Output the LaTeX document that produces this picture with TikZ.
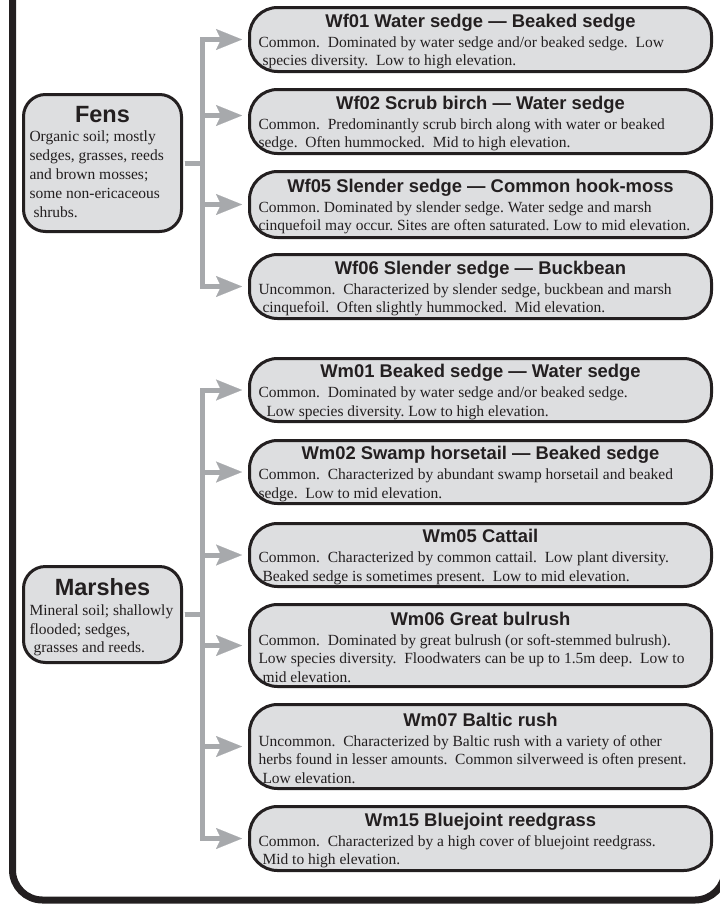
\documentclass[tikz,border=0pt]{standalone}
\usepackage{fontspec}
\setmainfont{Liberation Serif}
\newfontfamily\headsans{Liberation Sans}
\usetikzlibrary{arrows.meta}
\definecolor{ink}{HTML}{231F20}
\definecolor{boxfill}{RGB}{221,222,224}
\definecolor{linkgray}{RGB}{167,169,172}
\newcommand\twosp{\ \ }
% centred bold heading line of a type box (the strut sets its top)
\newcommand\leafhead[1]{\makebox[444pt][c]{\rule{0pt}{17pt}\headsans\bfseries\fontsize{18.4}{18.4}\selectfont #1}\\[1.5pt]}
\newcommand\grouphead[2]{\makebox[146pt][c]{\rule{0pt}{#2}\headsans\bfseries\fontsize{23.5}{24}\selectfont #1}\\[0.5pt]}
\frenchspacing
\tikzset{
  leaf/.style={draw=ink, line width=3pt, fill=boxfill, rounded corners=28pt,
    minimum width=462pt, inner sep=0pt, align=left, text=ink,
    font=\fontsize{15.5}{18.5}\selectfont},
  group/.style={draw=ink, line width=3pt, fill=boxfill, rounded corners=22pt,
    minimum width=158pt, inner sep=0pt, align=left, text=ink,
    font=\fontsize{15.5}{18.9}\selectfont},
  link/.style={draw=linkgray, line width=5pt, line join=miter,
    -{Stealth[length=26pt,width=21pt,inset=5pt,line width=0.1pt]},
    shorten >=6pt, shorten <=1.5pt},
  frame/.style={draw=ink, line width=7pt, rounded corners=30pt},
}
\begin{document}
\begin{tikzpicture}[x=1pt,y=-1pt]
\useasboundingbox (0,0) rectangle (720,905);
\clip (0,0) rectangle (720,905);

% outer frame
\draw[frame] (12.5,-60) -- (12.5,900) -- (725,900) -- (725,-60);

% habitat groups
\node[group, minimum height=137pt] (fens) at (102.5,163)
  {\grouphead{Fens}{19pt}Organic soil; mostly\\ sedges, grasses, reeds\\ and brown mosses;\\ some non-ericaceous\\ \hspace*{4pt}shrubs.\rule[-5pt]{0pt}{5pt}};
\node[group, minimum height=96pt] (marsh) at (102.5,614.5)
  {\grouphead{Marshes}{23pt}Mineral soil; shallowly\\ flooded; sedges,\\ \hspace*{4pt}grasses and reeds.};

% fen types
\node[leaf, minimum height=64pt] (wf01) at (480.5,39.5)
  {\leafhead{Wf01 Water sedge — Beaked sedge}Common.\twosp Dominated by water sedge and/or beaked sedge.\twosp Low\\ \hspace*{4pt}species diversity.\twosp Low to high elevation.};
\node[leaf, minimum height=64pt] (wf02) at (480.5,121.5)
  {\leafhead{Wf02 Scrub birch — Water sedge}Common.\twosp Predominantly scrub birch along with water or beaked\\ sedge.\twosp Often hummocked.\twosp Mid to high elevation.};
\node[leaf, minimum height=66pt] (wf05) at (480.5,204.5)
  {\leafhead{Wf05 Slender sedge — Common hook-moss}Common. Dominated by slender sedge. Water sedge and marsh\\ cinquefoil may occur. Sites are often saturated. Low to mid elevation.};
\node[leaf, minimum height=64pt] (wf06) at (480.5,286.5)
  {\leafhead{Wf06 Slender sedge — Buckbean}Uncommon.\twosp Characterized by slender sedge, buckbean and marsh\\ \hspace*{4pt}cinquefoil.\twosp Often slightly hummocked.\twosp Mid elevation.};

% marsh types
\node[leaf, minimum height=63pt] (wm01) at (480.5,390)
  {\leafhead{Wm01 Beaked sedge — Water sedge}Common.\twosp Dominated by water sedge and/or beaked sedge.\\ \hspace*{8pt}Low species diversity. Low to high elevation.};
\node[leaf, minimum height=63pt] (wm02) at (480.5,472)
  {\leafhead{Wm02 Swamp horsetail — Beaked sedge}Common.\twosp Characterized by abundant swamp horsetail and beaked\\ sedge.\twosp Low to mid elevation.};
\node[leaf, minimum height=63pt] (wm05) at (480.5,555)
  {\leafhead{Wm05 Cattail}Common.\twosp Characterized by common cattail.\twosp Low plant diversity.\\ \hspace*{4pt}Beaked sedge is sometimes present.\twosp Low to mid elevation.};
\node[leaf, minimum height=82pt] (wm06) at (480.5,645.5)
  {\leafhead{Wm06 Great bulrush}Common.\twosp Dominated by great bulrush (or soft-stemmed bulrush).\\ Low species diversity.\twosp Floodwaters can be up to 1.5m deep.\twosp Low to\\ \hspace*{4pt}mid elevation.};
\node[leaf, minimum height=84pt] (wm07) at (480.5,746.5)
  {\leafhead{Wm07 Baltic rush}Uncommon.\twosp Characterized by Baltic rush with a variety of other\\ herbs found in lesser amounts.\twosp Common silverweed is often present.\\ \hspace*{4pt}Low elevation.};
\node[leaf, minimum height=64pt] (wm15) at (480.5,838.5)
  {\leafhead{Wm15 Bluejoint reedgrass}Common.\twosp Characterized by a high cover of bluejoint reedgrass.\\ \hspace*{4pt}Mid to high elevation.};

% branch points on the trunks
\coordinate (fensTrunk) at (202.5,163);
\coordinate (marshTrunk) at (202.5,614.5);

% connectors
\draw[link] (fens.east) -- (fensTrunk) |- (wf01.west);
\draw[link] (fens.east) -- (fensTrunk) |- ([yshift=6pt]wf02.west);
\draw[link] (fens.east) -- (fensTrunk) |- (wf05.west);
\draw[link] (fens.east) -- (fensTrunk) |- (wf06.west);

\draw[link] (marsh.east) -- (marshTrunk) |- (wm01.west);
\draw[link] (marsh.east) -- (marshTrunk) |- (wm02.west);
\draw[link] (marsh.east) -- (marshTrunk) |- (wm05.west);
\draw[link] (marsh.east) -- (marshTrunk) |- (wm06.west);
\draw[link] (marsh.east) -- (marshTrunk) |- (wm07.west);
\draw[link] (marsh.east) -- (marshTrunk) |- (wm15.west);
\end{tikzpicture}
\end{document}
